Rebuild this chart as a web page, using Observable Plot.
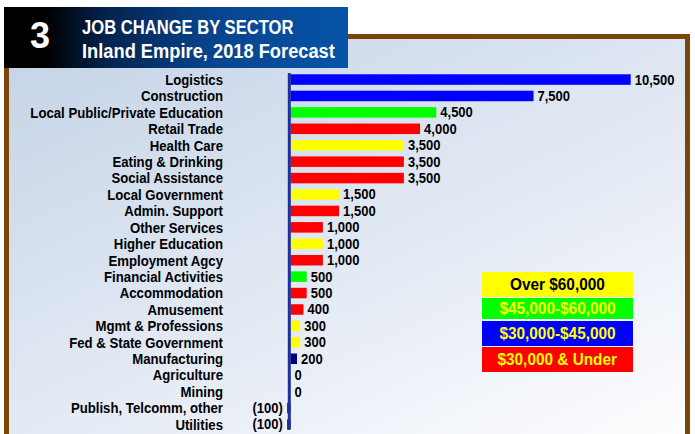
<!DOCTYPE html>
<html>
<head>
<meta charset="utf-8">
<script src="https://cdn.jsdelivr.net/npm/d3@7"></script>
<script src="https://cdn.jsdelivr.net/npm/@observablehq/plot@0.6"></script>
<style>
  html, body { margin: 0; padding: 0; background: #ffffff; }
  #wrap { position: relative; width: 695px; height: 434px; overflow: hidden; font-family: "Liberation Sans", Arial, sans-serif; }
  #panel { position: absolute; left: 4px; top: 34px; width: 676px; height: 420px;
    border: 5px solid #7a4508; border-bottom: none;
    background: linear-gradient(155deg, #c4d3e7 0%, #d8e2ef 35%, #edf1f8 70%, #ffffff 100%); }
  #titlebox { position: absolute; left: 4px; top: 7px; width: 344px; height: 61px;
    background: linear-gradient(to right, #000000 0%, #000000 12%, #04234f 30%, #08448e 60%, #0654a8 100%); color: #fff; }
  #num { position: absolute; left: 26px; top: 11px; font: bold 36px "Liberation Sans", Arial, sans-serif; line-height: 1; }
  .tl { position: absolute; left: 77.7px; font-family: "Liberation Sans", Arial, sans-serif; font-weight: bold; white-space: nowrap; line-height: 1; transform-origin: 0 0; }
  #chart { position: absolute; left: 0; top: 0; }
  .leg { position: absolute; left: 482px; width: 151px; display: flex; align-items: center; justify-content: center;
    font: bold 16px "Liberation Sans", Arial, sans-serif; }
  .leg span { display: inline-block; transform: scaleX(0.96); white-space: nowrap; }
</style>
</head>
<body>
<div id="wrap">
  <div id="panel"></div>
  <div id="chart"></div>
  <div id="titlebox">
    <div id="num">3</div>
    <div class="tl" style="top:8.5px; font-size:21px; transform: scaleX(0.79);">JOB CHANGE BY SECTOR</div>
    <div class="tl" style="top:34.8px; font-size:19.5px; transform: scaleX(0.937);">Inland Empire, 2018 Forecast</div>
  </div>
</div>
<script>
const sectors = [
  "Logistics", "Construction", "Local Public/Private Education", "Retail Trade",
  "Health Care", "Eating & Drinking", "Social Assistance", "Local Government",
  "Admin. Support", "Other Services", "Higher Education", "Employment Agcy",
  "Financial Activities", "Accommodation", "Amusement", "Mgmt & Professions",
  "Fed & State Government", "Manufacturing", "Agriculture", "Mining",
  "Publish, Telcomm, other", "Utilities"
];
const jobChange = [10500, 7500, 4500, 4000, 3500, 3500, 3500, 1500, 1500, 1000, 1000, 1000,
  500, 500, 400, 300, 300, 200, 0, 0, -100, -100];
const wageTier = ["mid", "mid", "upper", "low", "high", "low", "low", "high", "low", "low", "high", "low",
  "upper", "low", "low", "high", "high", "mfg", "none", "none", "neg", "neg"];
const tierKeys = ["high", "upper", "mid", "low", "mfg", "neg", "none"];
const tierColors = ["#ffff00", "#00ff00", "#0000ff", "#ff0000", "#000080", "#000000", "#000000"];

const legendLabels = ["Over $60,000", "$45,000-$60,000", "$30,000-$45,000", "$30,000 & Under"];
const legendFill = ["#ffff00", "#00ff00", "#0000ff", "#ff0000"];
const legendText = ["#000000", "#ffff00", "#ffff00", "#ffff00"];

const data = sectors.map((s, i) => ({sector: s, value: jobChange[i], tier: wageTier[i]}));
const fmt = d3.format(",");
const lab = v => v < 0 ? `(${fmt(-v)})` : fmt(v);

const chart = Plot.plot({
  width: 695,
  height: 434,
  marginLeft: 290.5,
  marginRight: 64.3,
  marginTop: 71,
  marginBottom: 1,
  style: {background: "transparent", color: "#000", fontFamily: "'Liberation Sans', Arial, sans-serif", fontSize: "14px", fontWeight: "bold"},
  x: {domain: [0, 10500], axis: null},
  y: {domain: sectors, paddingInner: 0.36, paddingOuter: 0.2, round: false, label: null, axis: null},
  color: {domain: tierKeys, range: tierColors},
  marks: [
    Plot.barX(data, {x: "value", y: "sector", fill: "tier"}),
    Plot.ruleX([0], {stroke: "#1f2f9f", strokeWidth: 3, dx: -1.7, insetTop: 2, insetBottom: 4}),
    Plot.text(data.filter(d => d.value >= 0), {x: "value", y: "sector", text: d => lab(d.value), textAnchor: "start", dx: 3.5, fill: "#000", fontSize: 14}),
    Plot.text(data.filter(d => d.value < 0), {x: "value", y: "sector", text: d => lab(d.value), textAnchor: "end", dx: -5, fill: "#000", fontSize: 14}),
    Plot.axisY({tickSize: 0, tickPadding: 68, label: null, fontSize: 15, fontWeight: "bold", fill: "#000"})
  ]
});

// condense glyphs horizontally (reference uses a condensed Helvetica)
function squeeze(sel, s) {
  chart.querySelectorAll(sel).forEach(t => {
    const X = +t.getAttribute("x") || 0, Y = +t.getAttribute("y") || 0;
    const tr = t.getAttribute("transform") || "";
    t.setAttribute("transform", `${tr} translate(${X},${Y}) scale(${s},1) translate(${-X},${-Y})`);
  });
}
squeeze('g[aria-label="y-axis tick label"] text', 0.88);
squeeze('g[aria-label="text"] text', 0.93);
document.getElementById("chart").appendChild(chart);

const tops = [272, 298, 321, 347];
const heights = [25, 21, 25, 25];
legendLabels.forEach((t, i) => {
  const d = document.createElement("div");
  d.className = "leg";
  d.style.top = tops[i] + "px";
  d.style.height = heights[i] + "px";
  d.style.background = legendFill[i];
  d.style.color = legendText[i];
  const sp = document.createElement("span");
  sp.textContent = t;
  d.appendChild(sp);
  document.getElementById("wrap").appendChild(d);
});
</script>
</body>
</html>
